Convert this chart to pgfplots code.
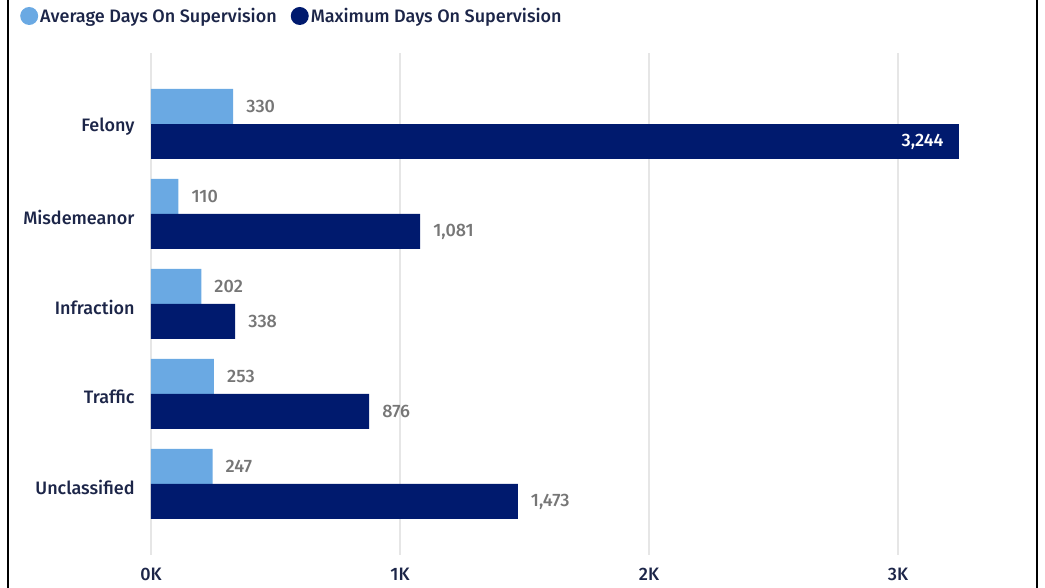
\documentclass[border=0pt]{standalone}
\usepackage{pgfplots}
\pgfplotsset{compat=1.18}
\usepackage{fontspec}
\setmainfont{Fira Sans}[UprightFont={* Medium}]
\definecolor{avgc}{RGB}{106,169,227}
\definecolor{maxc}{RGB}{0,26,110}
\definecolor{txt}{RGB}{28,37,72}
\definecolor{vlab}{RGB}{118,118,118}
\definecolor{gridc}{RGB}{230,230,230}

\begin{document}
\begin{tikzpicture}[x=1pt,y=1pt]
\useasboundingbox (0,0) rectangle (1045,588);
\begin{axis}[
  at={(151pt,33pt)}, anchor=south west,
  scale only axis, width=871.5pt, height=502pt,
  xbar, point meta=x,
  xmin=0, xmax=3500, ymin=-0.789, ymax=4.789,
  enlargelimits=false,
  axis line style={draw=none}, tick style={draw=none},
  xmajorgrids, grid style={gridc, line width=1.5pt},
  xtick={0,1000,2000,3000}, xticklabels={0K,1K,2K,3K},
  ytick={0,1,2,3,4},
  yticklabels={Unclassified,Traffic,Infraction,Misdemeanor,Felony},
  ticklabel style={font=\fontsize{18}{21}\selectfont, text=txt, inner sep=0pt},
  xticklabel style={anchor=base, yshift=-26pt},
  yticklabel style={anchor=east, xshift=-12pt, yshift=-3pt},
  /pgf/number format/.cd, 1000 sep={,}, assume math mode=true, /pgfplots/.cd,
  legend style={at={(axis description cs:0,1)}, anchor=west,
    xshift=-131pt, yshift=37pt, draw=none, fill=none, inner sep=0pt,
    font=\fontsize{18}{21}\selectfont, text=txt,
    /tikz/every even column/.append style={column sep=12pt}},
  legend columns=-1,
]
\addplot[xbar, bar width=35pt, bar shift=17.5pt, fill=avgc, draw=none,
  nodes near coords,
  nodes near coords style={font=\fontsize{18}{21}\selectfont, text=vlab, anchor=west, inner sep=0pt, xshift=13pt},
  legend image code/.code={\fill[avgc] (0pt,0pt) circle (9pt);}]
  coordinates {(330,4) (110,3) (202,2) (253,1) (247,0)};
\addlegendentry{Average Days On Supervision}
\addplot[xbar, bar width=35pt, bar shift=-17.5pt, fill=maxc, draw=none,
  nodes near coords,
  nodes near coords style={font=\fontsize{18}{21}\selectfont, text=vlab, anchor=west, inner sep=0pt, xshift=13pt},
  legend image code/.code={\fill[maxc] (0pt,0pt) circle (9pt);}]
  coordinates {(1081,3) (338,2) (876,1) (1473,0)};
\addlegendentry{Maximum Days On Supervision}
\addplot[xbar, bar width=35pt, bar shift=-17.5pt, fill=maxc, draw=none, forget plot,
  nodes near coords,
  nodes near coords style={font=\fontsize{18}{21}\selectfont, text=white, anchor=east, inner sep=0pt, xshift=-15pt}]
  coordinates {(3244,4)};
\end{axis}
\draw[line width=2pt, black] (8,0) -- (8,588);
\draw[line width=2pt, black] (1037,0) -- (1037,588);
\end{tikzpicture}
\end{document}
